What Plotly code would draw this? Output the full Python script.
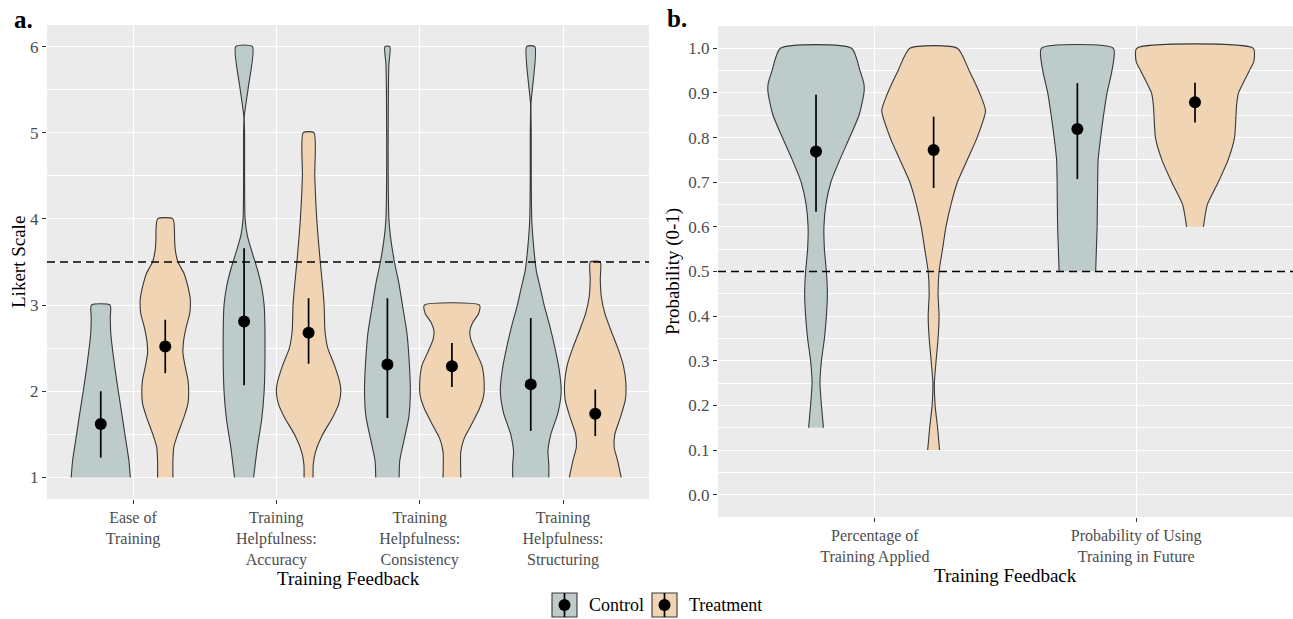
import plotly.graph_objects as go

W, H = 1293, 619
FONT = "Liberation Serif"

# ---------------- data ----------------
groups = ["Control", "Treatment"]
group_fill = {"Control": "#BECBCB", "Treatment": "#F1D4B3"}

likert_labels = ["Ease of<br>Training",
                 "Training<br>Helpfulness:<br>Accuracy",
                 "Training<br>Helpfulness:<br>Consistency",
                 "Training<br>Helpfulness:<br>Structuring"]
prob_labels = ["Percentage of<br>Training Applied",
               "Probability of Using<br>Training in Future"]

# violin outlines: y levels and relative density (width)
ease_ctrl_y = [1.0, 1.2, 1.43, 1.7, 2.0, 2.28, 2.67, 2.85, 3.0]
ease_ctrl_d = [59, 56, 50, 43, 35, 28, 20, 19, 18.7]
ease_trt_y = [1.0, 1.2, 1.36, 1.51, 1.7, 1.86, 2.0, 2.13, 2.28, 2.44, 2.59, 2.75, 2.9, 3.06, 3.21, 3.37, 3.5, 3.64, 3.75, 4.0]
ease_trt_d = [15.3, 15.3, 17.3, 25.3, 37.3, 45.3, 46.7, 45.3, 40, 35.3, 36.7, 42, 48.7, 50, 45.3, 37.3, 25.3, 20, 18.7, 15.3]

acc_ctrl_y = [1.0, 1.36, 1.67, 2.0, 2.63, 3.0, 3.21, 3.41, 3.6, 3.8, 4.0, 4.5, 5.0, 5.19, 5.54, 6.0]
acc_ctrl_d = [19, 26.7, 35, 40, 41.7, 40, 35, 26.7, 16.7, 6.7, 2, 1, 1, 0.5, 8.7, 16.7]
acc_trt_y = [1.0, 1.15, 1.3, 1.5, 1.7, 1.85, 2.0, 2.1, 2.3, 2.5, 2.7, 3.0, 3.2, 3.5, 4.0, 4.5, 5.0]
acc_trt_d = [9, 9.3, 14, 28.3, 48.3, 60, 64.3, 62.3, 51.7, 38.3, 32.7, 31, 28.3, 23.3, 16.3, 12.3, 10.7]

cons_ctrl_y = [1.0, 1.2, 1.43, 1.7, 2.0, 2.29, 2.67, 3.0, 3.25, 3.5, 3.8, 4.0, 4.5, 5.0, 5.5, 5.8, 6.0]
cons_ctrl_d = [23.3, 24.7, 33, 42.7, 45.7, 44, 39, 30, 23, 14, 6, 3, 1.5, 1.5, 2, 3, 5]
cons_trt_y = [1.0, 1.3, 1.45, 1.6, 1.8, 1.95, 2.1, 2.3, 2.45, 2.6, 2.7, 2.8, 2.9, 3.0]
cons_trt_d = [17.7, 17.7, 24.3, 37.7, 55, 63.3, 64.3, 59.7, 48.3, 37.7, 35.7, 41.7, 53, 55]

struct_ctrl_y = [1.0, 1.15, 1.3, 1.5, 1.75, 2.0, 2.25, 2.5, 2.75, 3.0, 3.2, 3.4, 3.6, 3.8, 4.0, 4.5, 5.0, 5.34, 6.0]
struct_ctrl_d = [36, 36, 34.3, 40, 54.3, 60.7, 56.7, 48.3, 38.3, 26.7, 19, 11, 7, 4, 2, 1, 1, 0.5, 8.3]
struct_trt_y = [1.0, 1.2, 1.35, 1.5, 1.7, 1.9, 2.1, 2.3, 2.5, 2.7, 2.9, 3.1, 3.3, 3.5]
struct_trt_d = [51.7, 44.3, 37.7, 39, 50.3, 60, 61, 56, 45, 31.7, 19.3, 12, 10, 10]

pct_ctrl_y = [0.15, 0.2, 0.25, 0.3, 0.35, 0.4, 0.45, 0.5, 0.55, 0.6, 0.65, 0.7, 0.75, 0.8, 0.85, 0.9, 0.92, 0.95, 1.0]
pct_ctrl_d = [15, 11, 8, 11, 17, 21, 23, 21, 17, 16, 20, 30, 48, 68, 87, 97, 97, 89, 72]
pct_trt_y = [0.1, 0.15, 0.2, 0.25, 0.3, 0.35, 0.4, 0.45, 0.5, 0.55, 0.6, 0.65, 0.7, 0.75, 0.8, 0.86, 0.9, 0.95, 1.0]
pct_trt_d = [12, 8, 3, 1.5, 5, 9, 11, 9, 11, 18, 25, 35, 48, 68, 88, 105, 93, 72, 48]

fut_ctrl_y = [0.5, 0.6, 0.7, 0.75, 0.8, 0.85, 0.9, 0.95, 1.0]
fut_ctrl_d = [37, 40, 41, 42, 47, 53, 60, 70, 73]
fut_trt_y = [0.6, 0.65, 0.7, 0.75, 0.8, 0.85, 0.87, 0.9, 0.95, 0.97, 1.0]
fut_trt_d = [17, 25, 47, 67, 80, 83, 84, 88, 110, 119, 118]

# means and intervals
ctrl_mean_a = [1.62, 2.81, 2.31, 2.08]
ctrl_lo_a = [1.23, 2.07, 1.69, 1.54]
ctrl_hi_a = [2.0, 3.66, 3.08, 2.85]
trt_mean_a = [2.52, 2.68, 2.29, 1.74]
trt_lo_a = [2.21, 2.32, 2.05, 1.48]
trt_hi_a = [2.83, 3.08, 2.56, 2.02]

ctrl_mean_b = [0.769, 0.819]
ctrl_lo_b = [0.634, 0.707]
ctrl_hi_b = [0.896, 0.922]
trt_mean_b = [0.772, 0.879]
trt_lo_b = [0.687, 0.834]
trt_hi_b = [0.847, 0.923]

ref_a = 3.5
ref_b = 0.5

# ---------------- figure ----------------
DODGE = 0.225
MAXW = 0.45
OUTLINE = "#383838"

fig = go.Figure()

panel_a = {
    "Control": [(ease_ctrl_y, ease_ctrl_d), (acc_ctrl_y, acc_ctrl_d), (cons_ctrl_y, cons_ctrl_d), (struct_ctrl_y, struct_ctrl_d)],
    "Treatment": [(ease_trt_y, ease_trt_d), (acc_trt_y, acc_trt_d), (cons_trt_y, cons_trt_d), (struct_trt_y, struct_trt_d)],
}
panel_b = {
    "Control": [(pct_ctrl_y, pct_ctrl_d), (fut_ctrl_y, fut_ctrl_d)],
    "Treatment": [(pct_trt_y, pct_trt_d), (fut_trt_y, fut_trt_d)],
}
stats_a = {"Control": (ctrl_mean_a, ctrl_lo_a, ctrl_hi_a), "Treatment": (trt_mean_a, trt_lo_a, trt_hi_a)}
stats_b = {"Control": (ctrl_mean_b, ctrl_lo_b, ctrl_hi_b), "Treatment": (trt_mean_b, trt_lo_b, trt_hi_b)}


def add_panel(panel, stats, xref, yref):
    dmax = max(max(d) for g in groups for (_, d) in panel[g])
    for gi, g in enumerate(groups):
        off = -DODGE if gi == 0 else DODGE
        for ci, (ys, ds) in enumerate(panel[g]):
            c = ci + 1 + off
            half = [d / dmax * MAXW / 2 for d in ds]
            xs = [c + h for h in half] + [c - h for h in half[::-1]]
            yy = list(ys) + list(ys[::-1])
            fig.add_trace(go.Scatter(
                x=xs, y=yy, xaxis=xref, yaxis=yref, mode="lines",
                fill="toself", fillcolor=group_fill[g],
                line=dict(color=OUTLINE, width=1.1, shape="spline", smoothing=0.6),
                showlegend=False, hoverinfo="skip"))
    for gi, g in enumerate(groups):
        off = -DODGE if gi == 0 else DODGE
        mean, lo, hi = stats[g]
        xs = [i + 1 + off for i in range(len(mean))]
        fig.add_trace(go.Scatter(
            x=xs, y=mean, xaxis=xref, yaxis=yref, mode="markers",
            marker=dict(color="black", size=12),
            error_y=dict(type="data", symmetric=False,
                         array=[h - m for h, m in zip(hi, mean)],
                         arrayminus=[m - l for m, l in zip(mean, lo)],
                         width=0, thickness=1.7, color="black"),
            name=g, showlegend=False))


add_panel(panel_a, stats_a, "x", "y")
add_panel(panel_b, stats_b, "x2", "y2")


def px_x(p):
    return p / W


def px_y(p):
    return 1 - p / H


tickfont = dict(family=FONT, size=16, color="#4D4D4D")
ytickfont = dict(family=FONT, size=17, color="#4D4D4D")
common_x = dict(showgrid=True, gridcolor="white", gridwidth=1.2, zeroline=False,
                ticks="outside", ticklen=4, tickcolor="#333333", tickwidth=1,
                tickfont=tickfont, showline=False, fixedrange=True)
common_y = dict(showgrid=True, gridcolor="white", gridwidth=1.2, zeroline=False,
                ticks="outside", ticklen=4, tickcolor="#333333", tickwidth=1,
                tickfont=ytickfont, showline=False, fixedrange=True)

fig.update_layout(
    width=W, height=H,
    margin=dict(l=0, r=0, t=0, b=0),
    paper_bgcolor="white", plot_bgcolor="#EBEBEB",
    font=dict(family=FONT, color="black"),
    showlegend=False,
    xaxis=dict(common_x, domain=[px_x(47), px_x(649)], range=[0.4, 4.6],
               tickmode="array", tickvals=[1, 2, 3, 4], ticktext=likert_labels, anchor="y"),
    yaxis=dict(common_y, domain=[px_y(499), px_y(25)], range=[0.75, 6.25],
               tickmode="array", tickvals=[1, 2, 3, 4, 5, 6], anchor="x",
               minor=dict(dtick=0.5, tick0=0.5, showgrid=True, gridcolor="white", gridwidth=0.6, ticks="")),
    xaxis2=dict(common_x, domain=[px_x(718), px_x(1293)], range=[0.4, 2.6],
                tickmode="array", tickvals=[1, 2], ticktext=prob_labels, anchor="y2"),
    yaxis2=dict(common_y, domain=[px_y(517), px_y(26)], range=[-0.05, 1.05],
                tickmode="linear", tick0=0, dtick=0.1, tickformat=".1f", anchor="x2",
                minor=dict(dtick=0.05, tick0=0.05, showgrid=True, gridcolor="white", gridwidth=0.6, ticks="")),
)

shapes = [
    dict(type="line", xref="x domain", yref="y", x0=0, x1=1, y0=ref_a, y1=ref_a,
         line=dict(color="black", width=1.4, dash="8px,5px"), layer="above"),
    dict(type="line", xref="x2 domain", yref="y2", x0=0, x1=1, y0=ref_b, y1=ref_b,
         line=dict(color="black", width=1.4, dash="8px,5px"), layer="above"),
]

annotations = [
    dict(text="<b>a.</b>", x=px_x(12), y=px_y(20), xref="paper", yref="paper",
         xanchor="left", yanchor="middle", showarrow=False, font=dict(family=FONT, size=25, color="black")),
    dict(text="<b>b.</b>", x=px_x(665), y=px_y(19), xref="paper", yref="paper",
         xanchor="left", yanchor="middle", showarrow=False, font=dict(family=FONT, size=25, color="black")),
    dict(text="Likert Scale", x=px_x(18), y=px_y(262), xref="paper", yref="paper", textangle=-90,
         xanchor="center", yanchor="middle", showarrow=False, font=dict(family=FONT, size=19, color="black")),
    dict(text="Probability (0-1)", x=px_x(673), y=px_y(272), xref="paper", yref="paper", textangle=-90,
         xanchor="center", yanchor="middle", showarrow=False, font=dict(family=FONT, size=19, color="black")),
    dict(text="Training Feedback", x=px_x(348), y=px_y(578), xref="paper", yref="paper",
         xanchor="center", yanchor="middle", showarrow=False, font=dict(family=FONT, size=19, color="black")),
    dict(text="Training Feedback", x=px_x(1005), y=px_y(575), xref="paper", yref="paper",
         xanchor="center", yanchor="middle", showarrow=False, font=dict(family=FONT, size=19, color="black")),
]

# custom legend (box with point-range glyph)
legend_items = [("Control", 552), ("Treatment", 652)]
ky0, ky1, kyc = 593, 617, 605
for name, kx in legend_items:
    kx1 = kx + 25
    kc = (kx + kx1) / 2
    shapes.append(dict(type="rect", xref="paper", yref="paper", x0=px_x(kx), x1=px_x(kx1),
                       y0=px_y(ky1), y1=px_y(ky0), fillcolor=group_fill[name],
                       line=dict(color=OUTLINE, width=1.1)))
    shapes.append(dict(type="line", xref="paper", yref="paper", x0=px_x(kc), x1=px_x(kc),
                       y0=px_y(ky1), y1=px_y(ky0), line=dict(color="black", width=1.7)))
    shapes.append(dict(type="circle", xref="paper", yref="paper", x0=px_x(kc - 6), x1=px_x(kc + 6),
                       y0=px_y(kyc + 6), y1=px_y(kyc - 6), fillcolor="black", line=dict(color="black", width=0)))
    annotations.append(dict(text=name, x=px_x(kx1 + 10), y=px_y(kyc), xref="paper", yref="paper",
                            xanchor="left", yanchor="middle", showarrow=False,
                            font=dict(family=FONT, size=18, color="black")))

fig.update_layout(shapes=shapes, annotations=annotations)

fig.write_html("out.html")
